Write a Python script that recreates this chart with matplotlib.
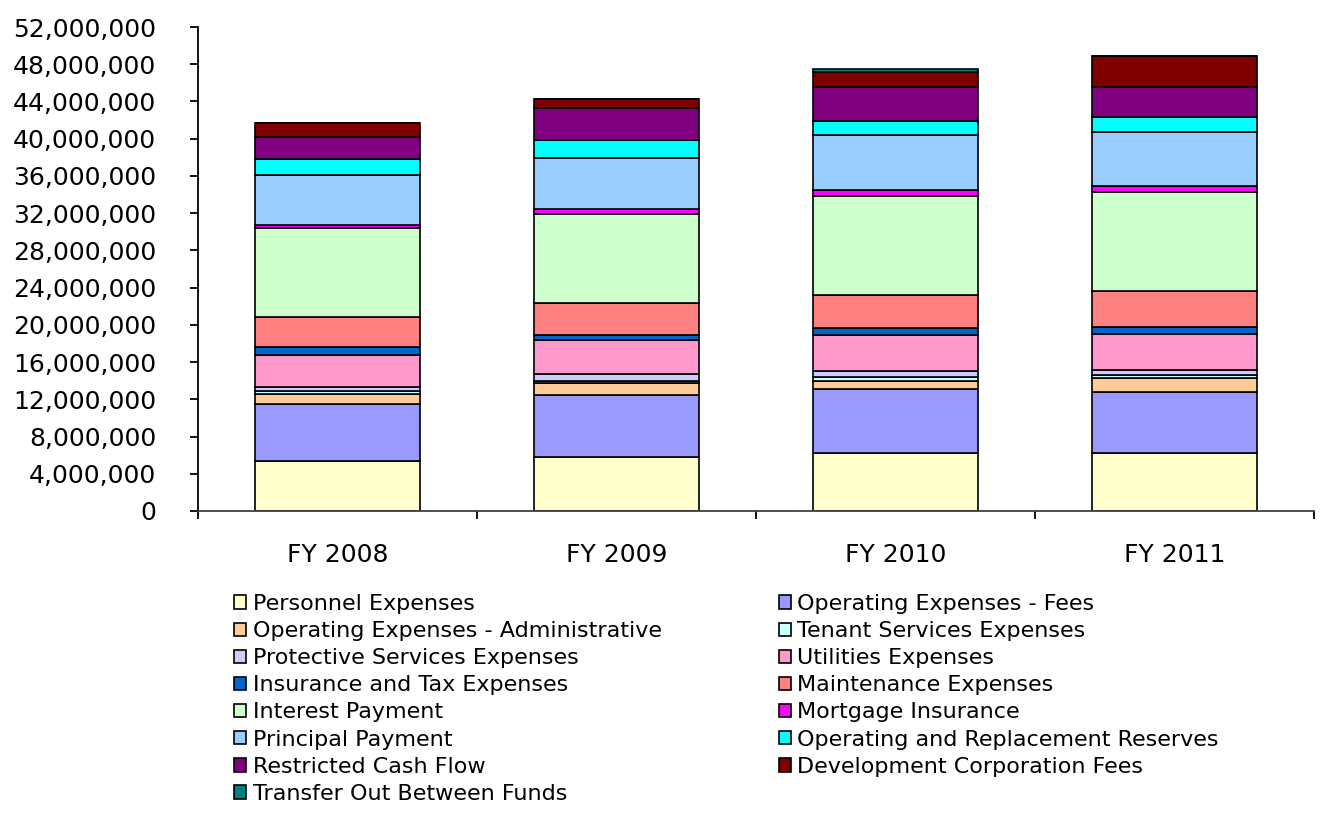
#!/usr/bin/env python3
"""Stacked bar chart of expenses by fiscal year."""
import matplotlib.pyplot as plt
import matplotlib.ticker as mticker
import numpy as np

years = ['FY 2008', 'FY 2009', 'FY 2010', 'FY 2011']

# values in dollars (millions)
personnel = [5.37, 5.80, 6.20, 6.20]
op_fees = [6.13, 6.66, 6.87, 6.62]
op_admin = [1.07, 1.24, 0.93, 1.44]
tenant = [0.30, 0.30, 0.36, 0.35]
protective = [0.50, 0.76, 0.71, 0.54]
utilities = [3.40, 3.57, 3.87, 3.83]
insurance = [0.82, 0.61, 0.68, 0.79]
maintenance = [3.23, 3.46, 3.58, 3.87]
interest = [9.56, 9.56, 10.64, 10.66]
mortgage = [0.39, 0.46, 0.65, 0.62]
principal = [5.34, 5.54, 5.94, 5.76]
reserves = [1.68, 1.90, 1.47, 1.68]
restricted = [2.35, 3.40, 3.62, 3.16]
dev_corp = [1.52, 1.04, 1.64, 3.40]
transfer = [0.0, 0.0, 0.29, 0.0]

labels = ['Personnel Expenses', 'Operating Expenses - Fees',
          'Operating Expenses - Administrative', 'Tenant Services Expenses',
          'Protective Services Expenses', 'Utilities Expenses',
          'Insurance and Tax Expenses', 'Maintenance Expenses',
          'Interest Payment', 'Mortgage Insurance', 'Principal Payment',
          'Operating and Replacement Reserves', 'Restricted Cash Flow',
          'Development Corporation Fees', 'Transfer Out Between Funds']
colors = ['#FFFFCC', '#9999FF', '#FFCC99', '#CCFFFF', '#CCCCFF', '#FF99CC',
          '#0066CC', '#FF8080', '#CCFFCC', '#FF00FF', '#99CCFF', '#00FFFF',
          '#800080', '#800000', '#008080']
series = [personnel, op_fees, op_admin, tenant, protective, utilities,
          insurance, maintenance, interest, mortgage, principal, reserves,
          restricted, dev_corp, transfer]

fig = plt.figure(figsize=(13.24, 8.14), dpi=100)
ax = fig.add_axes([198 / 1324, 1 - 511 / 814, (1314 - 198) / 1324, (511 - 27) / 814])

x = np.arange(len(years))
bottom = np.zeros(len(years))
handles = []
for vals, lab, col in zip(series, labels, colors):
    v = np.array(vals) * 1e6
    b = ax.bar(x, v, 0.59, bottom=bottom, color=col, edgecolor='black',
               linewidth=1.2, label=lab)
    handles.append(b)
    bottom += v

ax.set_xlim(-0.5, 3.5)
ax.set_ylim(0, 52e6)
ax.set_yticks(np.arange(0, 52e6 + 1, 4e6))
ax.yaxis.set_major_formatter(mticker.FuncFormatter(lambda v, p: f'{v:,.0f}'))
ax.set_xticks(x)
ax.set_xticklabels(years)
ax.set_xticks(np.arange(-0.5, 4, 1), minor=True)
ax.tick_params(axis='x', which='major', length=0, pad=23, labelsize=18)
ax.tick_params(axis='x', which='minor', length=6, width=1.3, direction='out')
ax.tick_params(axis='y', length=6, width=1.3, pad=24, labelsize=18)

for spine in ['top', 'right']:
    ax.spines[spine].set_visible(False)
ax.spines['left'].set_linewidth(1.3)
ax.spines['bottom'].set_linewidth(1.3)
ax.spines['bottom'].set_color('#404040')

# legend filled column-wise, so reorder to read row by row
order = list(range(0, 15, 2)) + list(range(1, 15, 2))
leg = fig.legend([handles[i] for i in order], [labels[i] for i in order],
                 ncol=2, loc='upper left', bbox_to_anchor=(234 / 1324, 1 - 594 / 814),
                 frameon=False, fontsize=16, handlelength=0.55, handleheight=0.55,
                 handletextpad=0.3, labelspacing=0.32, columnspacing=5.25,
                 borderpad=0, borderaxespad=0)

fig.savefig('out.png')
plt.close()
